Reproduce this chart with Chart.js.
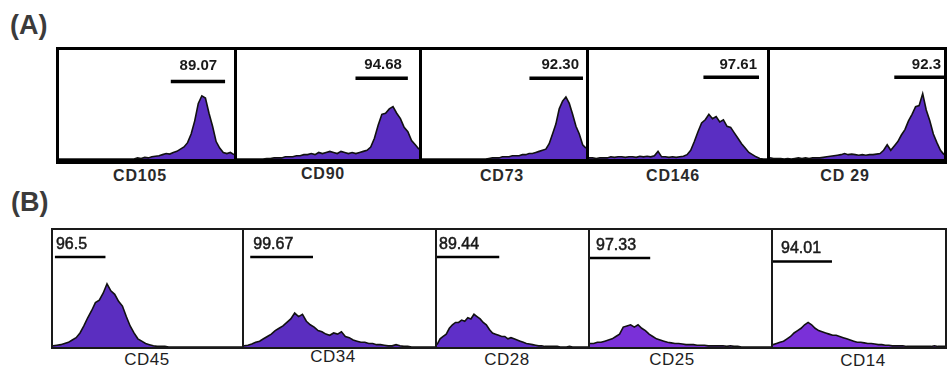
<!DOCTYPE html>
<html>
<head>
<meta charset="utf-8">
<script src="https://cdn.jsdelivr.net/npm/chart.js@4"></script>
<style>
  body { margin: 0; background: #fff; width: 947px; height: 372px; overflow: hidden; position: relative;
         font-family: "Liberation Sans", Arial, sans-serif; color: #222; }
  .panel { position: absolute; box-sizing: border-box; background: #fff; }
  .rowA { border: 3px solid #000; border-bottom-width: 5px; }
  .rowB { border: 2px solid #1a1a1a; }
  .panel canvas { display: block; }
  .letter { position: absolute; font-weight: bold; font-size: 27px; line-height: 27px; color: #3b3b3b; }
  .marker { position: absolute; white-space: pre; transform: translateX(-50%); }
  .mA { font-weight: bold; font-size: 16px; line-height: 16px; letter-spacing: 0.8px; color: #2a2a2a; }
  .mB { font-size: 17px; line-height: 17px; letter-spacing: 0.5px; color: #1e1e1e; }
</style>
</head>
<body>
<div class="letter" style="left:10px; top:12px;">(A)</div>
<div class="letter" style="left:11px; top:189px;">(B)</div>
<div id="figure"></div>

<script>
// fluorescence channel bins (x axis)
const channels = Array.from({ length: 50 }, (_, i) => i);

// marker names and percentage in gate
const markers = ['CD105', 'CD90', 'CD73', 'CD146', 'CD 29', 'CD45', 'CD34', 'CD28', 'CD25', 'CD14'];
const positivePct = ['89.07', '94.68', '92.30', '97.61', '92.3', '96.5', '99.67', '89.44', '97.33', '94.01'];

// gate range, in channel bins
const gateFrom = [31.3, 31.9, 32.1, 31.5, 35.0, 0.5, 1.6, 0, 0, 0];
const gateTo   = [46.5, 46.0, 48.1, 46.8, 49.0, 13.6, 17.7, 20.2, 16.3, 16.8];

// cell counts per bin (% of max count)
const cd105 = [0,0,0,0,0,0,0,0,0,0, 0,0,0,0,0,0,0,0,0,0, 0,0,1,0.5,1.5,1,2,2.5,3,4, 5,4.5,6,7,9,11,15,23,35,51, 58,56,42,30,16,10,6,5,6,4];
const cd90  = [0,0,0,0,0,0,0,0,0.5,0.5, 1,1,1,2,2,2,3,3,4,4, 5,4,6,5,6,7,6,5,7,6, 5,6,5,6,7,8,11,19,31,41, 42,46,48,42,37,29,25,17,13,9];
const cd73  = [0,0,0,0,0,0,0,0,0,0, 0,0,0,0,0,0,0,0,0,0, 0.5,1,1,1,2,2,2,3,3,3, 4,4,5,5,6,7,8,9,14,23, 32,46,53,57,51,41,30,23,13,10];
const cd146 = [1,1,0.5,1,1,1,2,1.5,2,2, 1.5,2,2,1.5,2.5,2,2.5,2,3,7, 2,2,1.5,2,1.5,2,2.5,4,8,16, 25,33,36,41,37,39,34,36,30,29, 24,19,14,10,6,4,2,0.5,0,0];
const cd29  = [1,0.5,0.5,0.5,0,0.5,0,0.5,1,0.5, 1,0.5,1,1,1,1.5,2,2.5,3,3.5, 4,5,4,4.5,4,3.5,4,3.5,4,4, 4.5,5,8,13,8,12,16,22,27,35, 41,48,49,60,45,35,23,15,8,4];
const cd45  = [1,1.5,2,3,4,6,8,12,18,25, 31,38,40,46,54,48,45,39,35,26, 18,12,7,5,3,2,1,0.5,0.5,0.5, 0,0,0,0,0,0,0,0,0,0, 0,0,0,0,0,0,0,0,0,0];
const cd34  = [1,1.5,2.5,4,5,7,9,11,14,16, 18,21,24,29,26,28,22,19,17,14, 13,11,10,12,11,13,9,8,6,5, 4,4,3,3,2,2,1.5,1,1,2, 1,0.5,0.5,0,0,0,0,0,0,0];
const cd28  = [2,7,9,11,16,19,21,21,23,22, 25,24,28,26,24,21,19,15,12,11, 10,9,9,7,8,7,6,5,4,3, 2.5,2,1.5,1,1,0.5,0.5,0.5,0.5,0.5, 0,0,0,0.5,0,0,0,0,0,0];
const cd25  = [3,3,4,4,5,6,7,9,11,17, 18,19,17,19,16,14,11,9,7,6, 5,4,3.5,3,3,2.5,2,2,2,1.5, 1.5,1.5,1,1,1,1,1,0.5,1,0.5, 0.5,0,0,0,0,0,0,0,0,0];
const cd14  = [2,3,4,5,7,9,12,14,16,19, 21,19,16,14,13,12,11,10,10,9, 8,7,6,5,4,4,3.5,3,3,2.5, 2,2,1.5,1.5,1,1,1,1,0.5,0.5, 0.5,0.5,0.5,0.5,0.5,0.5,1,0.5,0.5,0.5];

const histograms = [cd105, cd90, cd73, cd146, cd29, cd45, cd34, cd28, cd25, cd14];

// panel boxes and label placement
const layout = [
  { row: 'A', left: 56,  top: 47,  w: 181, h: 117, labelX: 140, labelY: 168, bar: 71, gap: 12, dx: -8, fill: '#5a2ec2' },
  { row: 'A', left: 234, top: 47,  w: 188, h: 117, labelX: 323, labelY: 166, bar: 74, gap: 9,  dx: -6, fill: '#5a2ec2' },
  { row: 'A', left: 419, top: 47,  w: 170, h: 117, labelX: 502, labelY: 168, bar: 74, gap: 9,  dx: -4, fill: '#5a2ec2' },
  { row: 'A', left: 586, top: 47,  w: 184, h: 117, labelX: 673, labelY: 168, bar: 75, gap: 8,  dx: -2, fill: '#5a2ec2' },
  { row: 'A', left: 767, top: 47,  w: 180, h: 117, labelX: 845, labelY: 168, bar: 75, gap: 8,  dx: -3, fill: '#5a2ec2' },
  { row: 'B', left: 51,  top: 228, w: 193, h: 121, labelX: 147, labelY: 351, bar: 77, gap: 8,  dx: 1,  fill: '#5b2ec0' },
  { row: 'B', left: 242, top: 228, w: 195, h: 121, labelX: 333, labelY: 348, bar: 77, gap: 8,  dx: 3,  fill: '#5b2ec0' },
  { row: 'B', left: 435, top: 228, w: 155, h: 121, labelX: 507, labelY: 351, bar: 77, gap: 8,  dx: 2,  fill: '#5f2fc8' },
  { row: 'B', left: 588, top: 228, w: 185, h: 121, labelX: 672, labelY: 351, bar: 76, gap: 8,  dx: 6,  fill: '#7a30d8' },
  { row: 'B', left: 771, top: 228, w: 176, h: 121, labelX: 863, labelY: 352, bar: 73, gap: 9,  dx: 8,  fill: '#7a30d8' }
];

// gate bar + percentage above it
const gatePlugin = {
  id: 'gate',
  afterDatasetsDraw(chart, args, opts) {
    const { ctx, scales: { x, y } } = chart;
    const x1 = x.getPixelForValue(opts.from);
    const x2 = x.getPixelForValue(opts.to);
    const yy = y.getPixelForValue(opts.level);
    ctx.save();
    ctx.strokeStyle = '#000';
    ctx.lineWidth = opts.thick;
    ctx.beginPath();
    ctx.moveTo(x1, yy);
    ctx.lineTo(x2, yy);
    ctx.stroke();
    ctx.font = opts.font;
    ctx.fillStyle = '#1a1a1a';
    ctx.textAlign = opts.align;
    ctx.textBaseline = 'alphabetic';
    const tx = opts.align === 'right' ? x2 + opts.dx : x1 + opts.dx;
    ctx.fillText(opts.text, tx, yy - opts.gap);
    if (opts.heavy) {
      // blurred scan makes the thin digits look heavier
      ctx.lineWidth = 0.5;
      ctx.strokeStyle = '#1a1a1a';
      ctx.strokeText(opts.text, tx, yy - opts.gap);
    }
    ctx.restore();
  }
};

const figure = document.getElementById('figure');

layout.forEach((p, i) => {
  const box = document.createElement('div');
  box.className = 'panel row' + p.row;
  box.style.left = p.left + 'px';
  box.style.top = p.top + 'px';
  box.style.width = p.w + 'px';
  box.style.height = p.h + 'px';
  const canvas = document.createElement('canvas');
  const bw = p.row === 'A' ? 6 : 4;
  const bh = p.row === 'A' ? 8 : 4;
  canvas.width = p.w - bw;
  canvas.height = p.h - bh;
  box.appendChild(canvas);
  figure.appendChild(box);

  const label = document.createElement('div');
  label.className = 'marker m' + p.row;
  label.style.left = p.labelX + 'px';
  label.style.top = p.labelY + 'px';
  label.textContent = markers[i];
  document.body.appendChild(label);

  const isA = p.row === 'A';

  new Chart(canvas, {
    type: 'line',
    data: {
      labels: channels,
      datasets: [{
        data: histograms[i],
        fill: 'origin',
        backgroundColor: p.fill,
        borderColor: '#111',
        borderWidth: 1.6,
        pointRadius: 0,
        tension: 0
      }]
    },
    options: {
      responsive: false,
      animation: false,
      layout: { padding: 0 },
      scales: {
        x: { display: false, offset: false },
        y: { display: false, min: 0, max: 100 }
      },
      plugins: {
        legend: { display: false },
        tooltip: { enabled: false },
        gate: {
          from: gateFrom[i],
          to: gateTo[i],
          level: p.bar,
          text: positivePct[i],
          thick: isA ? 3.5 : 2.5,
          font: isA ? 'bold 15px "Liberation Sans", Arial' : '16px "Liberation Sans", Arial',
          heavy: !isA,
          align: isA ? 'right' : 'left',
          dx: p.dx,
          gap: p.gap
        }
      }
    },
    plugins: [gatePlugin]
  });
});
</script>
</body>
</html>
